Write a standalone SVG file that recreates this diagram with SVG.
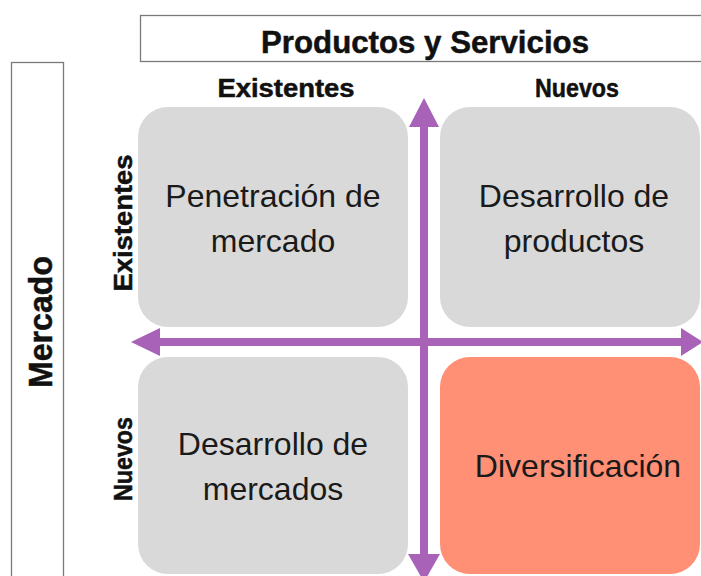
<svg xmlns="http://www.w3.org/2000/svg" width="701" height="576" viewBox="0 0 701 576">
<style>
.hdr{font-family:"Liberation Sans",Arial,sans-serif;font-weight:bold;fill:#111;stroke:#111;stroke-width:0.5;text-anchor:middle}
.body{font-family:"Liberation Sans",Arial,sans-serif;font-size:32px;fill:#1a1a1a;text-anchor:middle}
.frame{fill:#fff;stroke:#7a7a7a;stroke-width:1.3}
.gray{fill:#d9d9d9}
.orange{fill:#ff8f75}
.arrow{fill:#a862b8}
</style>
<rect width="701" height="576" fill="#fff"/>
<g id="header-productos">
<rect class="frame" x="140.5" y="15.5" width="562" height="46"/>
<text class="hdr" x="425" y="53" font-size="32" textLength="328" lengthAdjust="spacingAndGlyphs">Productos y Servicios</text>
</g>
<g id="header-mercado">
<rect class="frame" x="11.5" y="62.5" width="52" height="520"/>
<text class="hdr" transform="translate(52,322) rotate(-90)" font-size="33" textLength="132" lengthAdjust="spacingAndGlyphs">Mercado</text>
</g>
<g id="col-existentes"><text class="hdr" x="286" y="97" font-size="25" textLength="137" lengthAdjust="spacingAndGlyphs">Existentes</text></g>
<g id="col-nuevos"><text class="hdr" x="577" y="97" font-size="25" textLength="84" lengthAdjust="spacingAndGlyphs">Nuevos</text></g>
<g id="row-existentes"><text class="hdr" transform="translate(132,223) rotate(-90)" font-size="25" textLength="137" lengthAdjust="spacingAndGlyphs">Existentes</text></g>
<g id="row-nuevos"><text class="hdr" transform="translate(132,459) rotate(-90)" font-size="25" textLength="84" lengthAdjust="spacingAndGlyphs">Nuevos</text></g>
<g id="penetracion">
<rect class="gray" x="138" y="107" width="270" height="220" rx="30"/>
<text class="body" x="273" y="207">Penetración de</text>
<text class="body" x="273" y="252">mercado</text>
</g>
<g id="desarrollo-productos">
<rect class="gray" x="440" y="107" width="260" height="220" rx="30"/>
<text class="body" x="574" y="207">Desarrollo de</text>
<text class="body" x="574" y="252">productos</text>
</g>
<g id="desarrollo-mercados">
<rect class="gray" x="138" y="357" width="270" height="217" rx="30"/>
<text class="body" x="273" y="455">Desarrollo de</text>
<text class="body" x="273" y="500">mercados</text>
</g>
<g id="diversificacion">
<rect class="orange" x="440" y="357" width="260" height="217" rx="30"/>
<text class="body" x="578" y="477">Diversificación</text>
</g>
<g id="connectors">
<polygon class="arrow" points="131,342 160,328 160,338 681,338 681,328 703,342 681,356 681,346 160,346 160,356"/>
<polygon class="arrow" points="424,98 439,127 428,127 428,554 440,554 424,582 408,554 420,554 420,127 409,127"/>
</g>
</svg>
